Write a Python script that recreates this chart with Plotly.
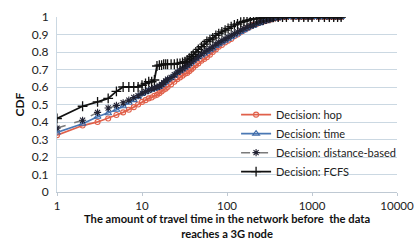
import plotly.graph_objects as go

x_time = [1,2,3,4,5,6,7,8,9,10,11,12,13,14,15,16,17,18,19,20,22,24,26,28,30,32,34,36,38,40,
          43,46,50,54,58,63,68,74,80,87,95,103,112,122,133,145,158,172,188,205,224,245,268,293,
          320,350,400,450,500,600,700,800,900,1000,1200,1400,1600,1800,2000,2200]

cdf_hop = [0.325,0.38,0.40,0.42,0.44,0.455,0.47,0.485,0.50,0.515,0.525,0.535,0.54,0.55,0.555,
           0.565,0.575,0.585,0.59,0.60,0.615,0.63,0.645,0.655,0.665,0.675,0.68,0.69,0.70,0.71,
           0.725,0.735,0.75,0.76,0.77,0.785,0.80,0.815,0.83,0.84,0.855,0.865,0.875,0.89,0.90,
           0.915,0.925,0.935,0.945,0.955,0.96,0.97,0.975,0.98,0.985,0.99,0.995,1.0,1.0,1.0,
           1.0,1.0,1.0,1.0,1.0,1.0,1.0,1.0,1.0,1.0]

cdf_time = [0.34,0.39,0.43,0.45,0.47,0.49,0.51,0.525,0.545,0.56,0.57,0.58,0.585,0.59,0.595,
            0.60,0.61,0.62,0.63,0.64,0.65,0.665,0.68,0.69,0.70,0.71,0.72,0.73,0.74,0.75,
            0.76,0.77,0.78,0.79,0.80,0.81,0.82,0.835,0.845,0.855,0.865,0.875,0.885,0.895,0.905,
            0.915,0.925,0.935,0.945,0.95,0.96,0.965,0.975,0.98,0.985,0.99,0.995,1.0,1.0,1.0,
            1.0,1.0,1.0,1.0,1.0,1.0,1.0,1.0,1.0,1.0]

cdf_dist = [0.365,0.41,0.455,0.48,0.495,0.51,0.525,0.54,0.55,0.565,0.575,0.58,0.59,0.595,0.60,
            0.605,0.615,0.625,0.635,0.645,0.655,0.67,0.685,0.695,0.705,0.715,0.725,0.735,0.745,0.755,
            0.765,0.775,0.79,0.80,0.81,0.82,0.83,0.845,0.855,0.865,0.875,0.885,0.895,0.905,0.915,
            0.925,0.935,0.94,0.95,0.955,0.965,0.97,0.975,0.98,0.985,0.99,0.995,1.0,1.0,1.0,
            1.0,1.0,1.0,1.0,1.0,1.0,1.0,1.0,1.0,1.0]

cdf_fcfs = [0.42,0.49,0.515,0.535,0.575,0.60,0.60,0.60,0.60,0.61,0.62,0.63,0.63,0.64,0.72,
            0.725,0.725,0.73,0.73,0.73,0.73,0.73,0.735,0.735,0.74,0.745,0.755,0.765,0.775,0.785,
            0.80,0.815,0.83,0.845,0.86,0.87,0.88,0.895,0.905,0.915,0.925,0.935,0.945,0.955,0.96,
            0.97,0.975,0.98,0.985,0.99,0.99,0.995,0.995,1.0,1.0,1.0,1.0,1.0,1.0,1.0,
            1.0,1.0,1.0,1.0,1.0,1.0,1.0,1.0,1.0,1.0]

series_names = ["Decision: hop", "Decision: time", "Decision: distance-based", "Decision: FCFS"]
y_ticks = [0, 0.1, 0.2, 0.3, 0.4, 0.5, 0.6, 0.7, 0.8, 0.9, 1]
y_tick_labels = ["0", "0.1", "0.2", "0.3", "0.4", "0.5", "0.6", "0.7", "0.8", "0.9", "1"]
x_ticks = [1, 10, 100, 1000, 10000]
x_tick_labels = ["1", "10", "100", "1000", "10000"]
x_title = "<b>The amount of travel time in the network before  the data<br>reaches a 3G node</b>"
y_title = "<b>CDF</b>"

FONT = "Lato, 'Open Sans', sans-serif"

fig = go.Figure()
styles = [
    (cdf_hop, dict(color="#E0604A", width=1.8), dict(symbol="circle-open", size=5, color="#E0604A", line=dict(width=1.1))),
    (cdf_time, dict(color="#4A78B4", width=1.8), dict(symbol="triangle-up-open", size=6, color="#3E6AA8", line=dict(width=1.1))),
    (cdf_dist, dict(color="#7A7A7A", width=1.5, dash="dash"), dict(symbol="asterisk-open", size=6, color="#222233", line=dict(width=1.1))),
    (cdf_fcfs, dict(color="#111111", width=1.8), dict(symbol="cross-thin-open", size=7, color="#111111", line=dict(width=1.3))),
]
for name, (ys, ln, mk) in zip(series_names, styles):
    fig.add_trace(go.Scatter(x=x_time, y=ys, mode="lines+markers", name=name, line=ln, marker=mk))

fig.update_layout(
    width=417, height=240,
    margin=dict(l=57, r=20, t=17, b=48),
    paper_bgcolor="white", plot_bgcolor="white",
    font=dict(family=FONT, size=12, color="#222222"),
    showlegend=True,
    legend=dict(x=1.012, y=0.525, xanchor="right", yanchor="top", bgcolor="rgba(0,0,0,0)",
                font=dict(size=11, color="#222222"), tracegroupgap=0, itemwidth=30),
    xaxis=dict(type="log", range=[0, 4], tickvals=x_ticks, ticktext=x_tick_labels,
               showgrid=False, showline=True, linecolor="#BFC9D3", linewidth=1,
               ticks="outside", ticklen=3, tickcolor="#BFC9D3", zeroline=False,
               automargin=False,
               tickfont=dict(size=11.5, color="#222222")),
    yaxis=dict(range=[0, 1], tickvals=y_ticks, ticktext=y_tick_labels,
               showgrid=True, gridcolor="#CBD8E2", gridwidth=1, zeroline=False,
               showline=True, linecolor="#CBD8E2", ticks="",
               automargin=False, ticklabelstandoff=5,
               tickfont=dict(size=12, color="#222222")),
    annotations=[
        dict(text=x_title, xref="paper", yref="paper", x=0.5, y=-0.195, xanchor="center", yanchor="middle",
             showarrow=False, font=dict(size=11.2, color="#111111"), align="center"),
        dict(text=y_title, xref="paper", yref="paper", x=-0.109, y=0.5, xanchor="center", yanchor="middle",
             textangle=-90, showarrow=False, font=dict(size=12, color="#111111")),
    ],
)

fig.write_html("out.html", config={"displayModeBar": False},
               post_script="document.body.style.margin='0';")
